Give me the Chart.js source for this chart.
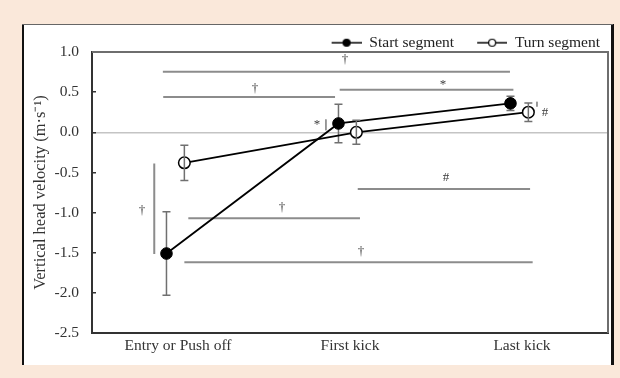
<!DOCTYPE html>
<html><head><meta charset="utf-8">
<script src="https://cdn.jsdelivr.net/npm/chart.js@4/dist/chart.umd.min.js"></script>
<style>
html,body{margin:0;padding:0;background:#FAE8DA;}
#wrap{position:relative;width:620px;height:378px;}
</style>
</head><body>
<div id="wrap"><canvas id="c"></canvas></div>
<script>
// ---------- data ----------
const categories = ['Entry or Push off', 'First kick', 'Last kick'];
const seriesNames = ['Start segment', 'Turn segment'];
const startMean = [-1.51, 0.11, 0.36];
const startSD   = [0.52, 0.24, 0.09];
const turnMean  = [-0.38, 0.00, 0.25];
const turnSD    = [0.22, 0.15, 0.115];
const startDodge = -0.067;   // horizontal dodge (category units)
const turnDodge  = 0.037;
const yTicks = [-2.5, -2.0, -1.5, -1.0, -0.5, 0.0, 0.5, 1.0];
// significance brackets: [xFrom, xTo, yFrom, yTo] in data units
const sigLines = [
  [-0.088, 1.93, 0.755, 0.755],
  [-0.086, 0.913, 0.44, 0.44],
  [0.94, 1.95, 0.53, 0.53],
  [1.045, 2.047, -0.706, -0.706],
  [0.06, 1.058, -1.07, -1.07],
  [0.037, 2.062, -1.62, -1.62],
  [-0.138, -0.138, -0.39, -1.517],
  [0.86, 0.86, 0.16, 0.025],
  [2.087, 2.087, 0.38, 0.32]
];
// significance symbols: [x, y, text]
const sigMarks = [
  [0.971, 0.90, '\u2020'],
  [0.448, 0.55, '\u2020'],
  [1.541, 0.60, '*'],
  [1.558, -0.56, '#'],
  [0.605, -0.94, '\u2020'],
  [1.064, -1.49, '\u2020'],
  [-0.209, -0.975, '\u2020'],
  [0.808, 0.09, '*'],
  [2.134, 0.25, '#']
];

const FONT = 'Liberation Serif';

// ---------- legend icons ----------
function makeIcon(filled) {
  const cv = document.createElement('canvas');
  cv.width = 50; cv.height = 14;
  const g = cv.getContext('2d');
  g.strokeStyle = '#000'; g.lineWidth = 1.5;
  g.beginPath(); g.moveTo(20, 7); g.lineTo(50, 7); g.stroke();
  g.beginPath(); g.arc(35, 7, 3.5, 0, Math.PI * 2);
  g.fillStyle = filled ? '#000' : '#fff'; g.fill();
  g.lineWidth = 1.2; g.stroke();
  return cv;
}
const legendIcons = [makeIcon(true), makeIcon(false)];

// ---------- plugins ----------
const panelPlugin = {
  id: 'panel',
  afterLayout(chart) {
    // legend sits a little left of the plot's right edge
    if (chart.legend) { chart.legend.right -= 5; }
  },
  beforeDraw(chart) {
    const c = chart.ctx;
    c.save();
    c.fillStyle = '#FAE8DA'; c.fillRect(0, 0, chart.width, chart.height);
    c.fillStyle = '#fff'; c.fillRect(22, 24, 591, 341);
    c.fillStyle = '#111'; c.fillRect(22, 24, 2, 341); c.fillRect(611, 24, 3, 341);
    c.fillStyle = '#666'; c.fillRect(22, 24, 591, 1);
    c.restore();
  }
};

function drawErr(chart, means, sds, dodge) {
  const xs = chart.scales.x, ys = chart.scales.y, c = chart.ctx;
  c.save();
  c.strokeStyle = '#707070'; c.lineWidth = 1.5;
  means.forEach((m, i) => {
    const px = xs.getPixelForValue(i + dodge);
    const t = ys.getPixelForValue(m + sds[i]);
    const b = ys.getPixelForValue(m - sds[i]);
    c.beginPath();
    c.moveTo(px, t); c.lineTo(px, b);
    c.moveTo(px - 4, t); c.lineTo(px + 4, t);
    c.moveTo(px - 4, b); c.lineTo(px + 4, b);
    c.stroke();
  });
  c.restore();
}

const decoPlugin = {
  id: 'deco',
  beforeDatasetsDraw(chart) {
    const a = chart.chartArea, c = chart.ctx;
    c.save();
    c.strokeStyle = '#6e6e6e'; c.lineWidth = 2;
    c.beginPath(); c.moveTo(a.left, a.top); c.lineTo(a.right, a.top); c.lineTo(a.right, a.bottom); c.stroke();
    c.restore();
    drawErr(chart, startMean, startSD, startDodge);
  },
  afterDatasetsDraw(chart) {
    drawErr(chart, turnMean, turnSD, turnDodge);
    const xs = chart.scales.x, ys = chart.scales.y, c = chart.ctx;
    c.save();
    c.fillStyle = '#3c3c3c'; c.font = '13px "' + FONT + '"';
    c.textAlign = 'center'; c.textBaseline = 'middle';
    sigMarks.forEach(([x, y, t]) => c.fillText(t, xs.getPixelForValue(x), ys.getPixelForValue(y)));
    c.restore();
  }
};

// ---------- datasets ----------
const datasets = [
  {
    label: seriesNames[0],
    data: startMean.map((v, i) => ({x: i + startDodge, y: v})),
    borderColor: '#000', borderWidth: 1.8,
    pointRadius: 5.8, pointBackgroundColor: '#000', pointBorderColor: '#000', pointBorderWidth: 1
  },
  {
    label: seriesNames[1],
    data: turnMean.map((v, i) => ({x: i + turnDodge, y: v})),
    borderColor: '#000', borderWidth: 1.8,
    pointRadius: 5.8, pointBackgroundColor: '#fff', pointBorderColor: '#000', pointBorderWidth: 1.5
  },
  ...sigLines.map(([x1, x2, y1, y2]) => ({
    label: 'sig',
    data: [{x: x1, y: y1}, {x: x2, y: y2}],
    borderColor: '#8c8c8c', borderWidth: (x1 === x2 && Math.abs(y1 - y2) < 0.2) ? 1 : 2,
    pointRadius: 0
  }))
];

new Chart(document.getElementById('c'), {
  type: 'line',
  data: {datasets},
  plugins: [panelPlugin, decoPlugin],
  options: {
    responsive: true, maintainAspectRatio: false, animation: false, events: [],
    layout: {padding: {top: 32, right: 12, left: 0, bottom: 0}},
    plugins: {
      tooltip: {enabled: false},
      legend: {
        display: true, position: 'top', align: 'end', maxHeight: 20,
        labels: {
          usePointStyle: true, pointStyleWidth: 50, padding: 3,
          color: '#222', font: {family: FONT, size: 15.5},
          filter: item => item.datasetIndex < 2,
          generateLabels(chart) {
            const items = Chart.defaults.plugins.legend.labels.generateLabels(chart);
            items.forEach(it => { if (it.datasetIndex < 2) it.pointStyle = legendIcons[it.datasetIndex]; });
            return items;
          }
        }
      }
    },
    scales: {
      x: {
        type: 'linear', min: -0.5, max: 2.5,
        afterBuildTicks(s) { s.ticks = categories.map((_, i) => ({value: i})); },
        afterFit(s) { s.height = 45; },
        grid: {display: false},
        border: {display: true, color: '#333', width: 2},
        ticks: {
          padding: -4, color: '#333', font: {family: FONT, size: 15.5}, maxRotation: 0,
          callback: v => categories[v]
        }
      },
      y: {
        type: 'linear', min: yTicks[0], max: yTicks[yTicks.length - 1],
        afterBuildTicks(s) { s.ticks = yTicks.map(v => ({value: v})); },
        afterFit(s) { s.width = 92; },
        grid: {
          display: true, drawOnChartArea: true, drawTicks: true, tickLength: -4,
          color: ctx => (ctx.tick && ctx.tick.value === 0) ? '#c4c4c4' : 'rgba(0,0,0,0)',
          tickColor: '#333', lineWidth: 1.5
        },
        border: {display: true, color: '#333', width: 2},
        ticks: {
          padding: 17, color: '#333', font: {family: FONT, size: 15.5},
          callback: v => Number(v).toFixed(1)
        },
        title: {
          display: true, text: 'Vertical head velocity (m\u00B7s\u207B\u00B9)',
          color: '#333', font: {family: FONT, size: 16.5}, padding: {top: 31, bottom: 0}
        }
      }
    }
  }
});
</script>
</body></html>
